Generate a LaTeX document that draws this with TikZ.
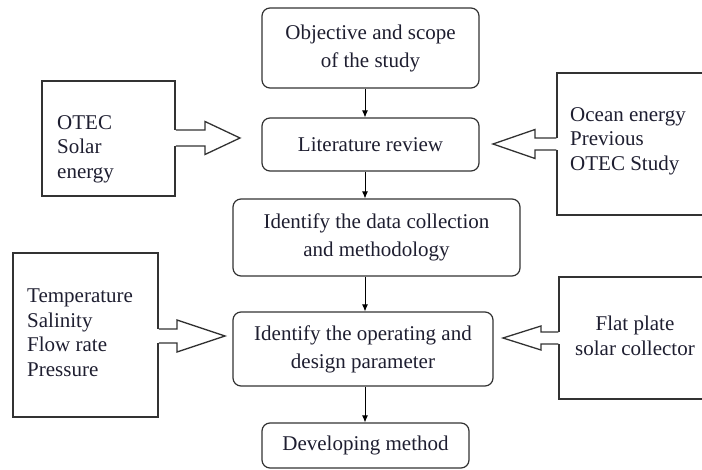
\documentclass[tikz,border=0pt]{standalone}
\usepackage{fontspec}
\setmainfont{Liberation Serif}
\usetikzlibrary{arrows.meta,calc}
\definecolor{ink}{RGB}{30,30,48}
\definecolor{edge}{RGB}{50,50,50}
\tikzset{
  stepbox/.style={draw=edge, line width=1.2pt, rounded corners=8pt, align=center,
    text=ink, font=\fontsize{21}{28}\selectfont, inner sep=0pt},
  sidebox/.style={draw=edge, line width=1.5pt, inner sep=0pt},
  sidetext/.style={text=ink, font=\fontsize{21}{24.5}\selectfont, inner sep=0pt},
  flow/.style={draw=black, line width=0.8pt, -{Latex[length=7pt,width=6pt]}},
  fatline/.style={draw=edge, line width=1.3pt, line join=miter},
}
% hollow block arrow: #1 start on a box edge, #2 tip, #3 half shaft width,
% #4 half head width, #5 signed head length
\newcommand\blockarrowpath[5]{%
  \fill[white] let \p1=(#1), \p2=(#2) in (\x1-2pt,\y2+#3) rectangle (\x1+2pt,\y2-#3);
  \draw[fatline] let \p1=(#1), \p2=(#2) in
    (\x1,\y2+#3) -- (\x2-#5,\y2+#3) -- (\x2-#5,\y2+#4) -- (\x2,\y2)
    -- (\x2-#5,\y2-#4) -- (\x2-#5,\y2-#3) -- (\x1,\y2-#3);
}
\begin{document}
\begin{tikzpicture}[x=1pt,y=-1pt]
\useasboundingbox (0,0) rectangle (702,470);
\clip (0,0) rectangle (702,470);

% main sequence of steps
\node[stepbox, minimum width=217pt, minimum height=80pt] (obj) at (370.5,48) {Objective and scope\\of the study};
\node[stepbox, minimum width=217pt, minimum height=53pt] (lit) at (370.5,144.5) {Literature review};
\node[stepbox, minimum width=287pt, minimum height=77pt] (data) at (376.5,237.5) {Identify the data collection\\and methodology};
\node[stepbox, minimum width=260pt, minimum height=74pt] (oper) at (363,349) {Identify the operating and\\design parameter};
\node[stepbox, minimum width=207pt, minimum height=45pt] (dev) at (365.5,445.5) {Developing method};

\coordinate (ax) at (365,0);
\draw[flow] (obj.south -| ax) -- (lit.north -| ax);
\draw[flow] (lit.south -| ax) -- (data.north -| ax);
\draw[flow] (data.south -| ax) -- (oper.north -| ax);
\draw[flow] (oper.south -| ax) -- (dev.north -| ax);

% input boxes
\node[sidebox, minimum width=133pt, minimum height=115pt] (l1) at (108.5,138.5) {};
\node[sidebox, minimum width=160pt, minimum height=142pt] (r1) at (637,144) {};
\node[sidebox, minimum width=145pt, minimum height=164pt] (l2) at (85.5,335) {};
\node[sidebox, minimum width=160pt, minimum height=122pt] (r2) at (639,338) {};

\node[sidetext, align=left, anchor=west] (l1t) at (57,149) {OTEC\\Solar\\energy};
\node[sidetext, align=left, anchor=west] (r1t) at (570,141) {Ocean energy\\Previous\\OTEC Study};
\node[sidetext, align=left, anchor=west] (l2t) at (27,332.5) {Temperature\\Salinity\\Flow rate\\Pressure};
\node[sidetext, align=center] (r2t) at (635,336) {Flat plate\\solar collector};

% block arrows feeding the steps
\coordinate (l1tip) at (240,138);
\coordinate (r1tip) at (493,144);
\coordinate (l2tip) at (225,336);
\coordinate (r2tip) at (503,338);
\blockarrowpath{l1.east}{l1tip}{8pt}{16.5pt}{35pt}
\blockarrowpath{r1.west}{r1tip}{6pt}{14.5pt}{-42pt}
\blockarrowpath{l2.east}{l2tip}{7pt}{16pt}{48pt}
\blockarrowpath{r2.west}{r2tip}{6pt}{12pt}{-38pt}
\end{tikzpicture}
\end{document}
